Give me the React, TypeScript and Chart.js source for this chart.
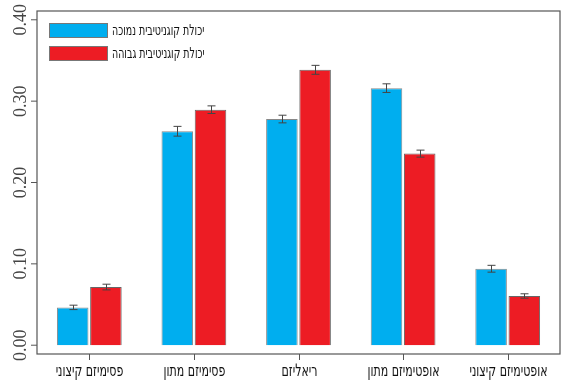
import React, { useEffect, useRef } from "react";
import { Chart, registerables } from "chart.js";

Chart.register(...registerables);

const categories = ["פסימיזם קיצוני", "פסימיזם מתון", "ריאליזם", "אופטימיזם מתון", "אופטימיזם קיצוני"];
const seriesNames = ["יכולת קוגניטיבית נמוכה", "יכולת קוגניטיבית גבוהה"];
const lowValues = [0.0465, 0.263, 0.278, 0.316, 0.094];
const highValues = [0.0715, 0.2895, 0.3385, 0.2355, 0.0605];
const lowErrors = [0.0027, 0.006, 0.0047, 0.0053, 0.0042];
const highErrors = [0.0035, 0.0047, 0.0055, 0.0043, 0.0027];
const yTicks = [0, 0.1, 0.2, 0.3, 0.4];
const yTickLabels = ["0.00", "0.10", "0.20", "0.30", "0.40"];

const BLUE = "#00AEEF";
const RED = "#ED1C24";
const HEB_FONT = "'DejaVu Sans Condensed', 'DejaVu Sans', sans-serif";

function drawNarrowText(ctx: any, text: string, x: number, y: number, sx: number, align: string) {
  ctx.save();
  ctx.translate(x, y);
  ctx.scale(sx, 1);
  ctx.textAlign = align;
  ctx.fillText(text, 0, 0);
  ctx.restore();
}

const errorBarsPlugin = {
  id: "errorBars",
  afterDatasetsDraw(chart: any) {
    const ctx = chart.ctx;
    const y = chart.scales.y;
    chart.data.datasets.forEach((ds: any, di: number) => {
      const meta = chart.getDatasetMeta(di);
      meta.data.forEach((bar: any, i: number) => {
        const v = ds.data[i];
        const e = ds.errors[i];
        const x = Math.round(bar.x) + 0.5;
        const yt = y.getPixelForValue(v + e);
        const yb = y.getPixelForValue(v - e);
        ctx.save();
        ctx.strokeStyle = "#444";
        ctx.lineWidth = 1;
        ctx.beginPath();
        ctx.moveTo(x, yt);
        ctx.lineTo(x, yb);
        ctx.moveTo(x - 4, yt);
        ctx.lineTo(x + 4, yt);
        ctx.moveTo(x - 4, yb);
        ctx.lineTo(x + 4, yb);
        ctx.stroke();
        ctx.restore();
      });
    });
  },
};

const framePlugin = {
  id: "frame",
  afterDraw(chart: any) {
    const ctx = chart.ctx;
    const a = chart.chartArea;
    const y = chart.scales.y;
    const xs = chart.scales.x;
    ctx.save();
    ctx.strokeStyle = "#555";
    ctx.lineWidth = 1.2;
    ctx.strokeRect(a.left, a.top, a.right - a.left, a.bottom - a.top);
    // y tick marks and rotated labels
    ctx.lineWidth = 1;
    ctx.fillStyle = "#444";
    ctx.font = "18px 'Liberation Serif', 'DejaVu Serif', serif";
    ctx.textAlign = "center";
    ctx.textBaseline = "alphabetic";
    yTicks.forEach((t, i) => {
      const py = y.getPixelForValue(t);
      ctx.beginPath();
      ctx.moveTo(a.left - 6, py);
      ctx.lineTo(a.left, py);
      ctx.stroke();
      ctx.save();
      ctx.translate(26, py);
      ctx.rotate(-Math.PI / 2);
      ctx.fillText(yTickLabels[i], 0, 0);
      ctx.restore();
    });
    // x tick marks and labels
    ctx.fillStyle = "#111";
    ctx.font = "17px " + HEB_FONT;
    ctx.textBaseline = "middle";
    categories.forEach((c, i) => {
      const px = Math.round(xs.getPixelForTick(i)) + 0.5;
      ctx.beginPath();
      ctx.moveTo(px, a.bottom);
      ctx.lineTo(px, a.bottom + 6);
      ctx.stroke();
      drawNarrowText(ctx, c, px, 372, 0.72, "center");
    });
    // legend
    ctx.font = "15px " + HEB_FONT;
    ctx.textBaseline = "middle";
    chart.data.datasets.forEach((ds: any, i: number) => {
      const bx = a.left + 12;
      const by = a.top + 12 + i * 23;
      ctx.fillStyle = ds.backgroundColor;
      ctx.fillRect(bx, by, 59, 15);
      ctx.strokeStyle = "#777";
      ctx.lineWidth = 1;
      ctx.strokeRect(bx + 0.5, by + 0.5, 58, 14);
      ctx.fillStyle = "#111";
      drawNarrowText(ctx, ds.label, bx + 63, by + 8, 0.7, "left");
    });
    ctx.restore();
  },
};

export default function App() {
  const ref = useRef<HTMLCanvasElement | null>(null);
  useEffect(() => {
    document.body.style.margin = "0";
    const canvas = ref.current;
    if (!canvas) return;
    const chart = new Chart(canvas, {
      type: "bar",
      data: {
        labels: categories,
        datasets: [
          {
            label: seriesNames[0],
            data: lowValues,
            errors: lowErrors,
            backgroundColor: BLUE,
            borderColor: "#888",
            borderWidth: 1,
          } as any,
          {
            label: seriesNames[1],
            data: highValues,
            errors: highErrors,
            backgroundColor: RED,
            borderColor: "#666",
            borderWidth: 1,
          } as any,
        ],
      },
      options: {
        responsive: false,
        animation: false,
        devicePixelRatio: 1,
        layout: { padding: { top: 11, right: 20, left: 0, bottom: 0 } },
        datasets: { bar: { categoryPercentage: 0.635, barPercentage: 0.95 } },
        plugins: {
          legend: { display: false },
          tooltip: { enabled: false },
        },
        scales: {
          x: {
            grid: { display: false },
            border: { display: false },
            ticks: { display: false },
            afterFit: (s: any) => {
              s.height = 29;
            },
          },
          y: {
            min: -0.0108,
            max: 0.4108,
            grid: { display: false },
            border: { display: false },
            ticks: { display: false },
            afterBuildTicks: (s: any) => {
              s.ticks = yTicks.map((v) => ({ value: v }));
            },
            afterFit: (s: any) => {
              s.width = 37;
            },
          },
        },
      },
      plugins: [errorBarsPlugin, framePlugin],
    } as any);
    return () => chart.destroy();
  }, []);
  return (
    <div style={{ width: 580, height: 383 }}>
      <canvas ref={ref} width={580} height={383} style={{ display: "block" }} />
    </div>
  );
}
